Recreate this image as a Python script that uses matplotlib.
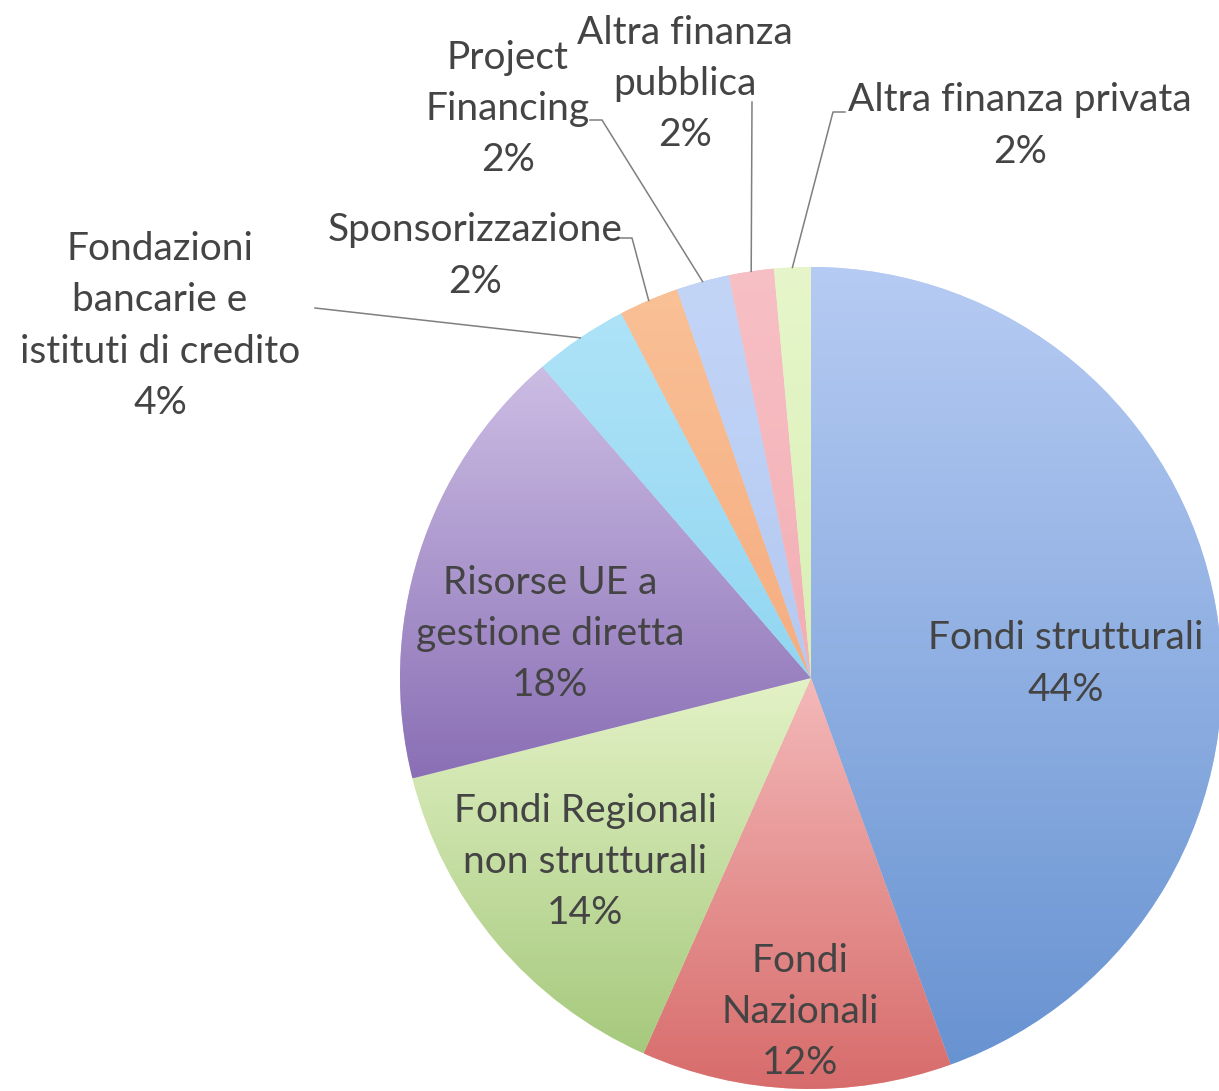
import numpy as np
import matplotlib.pyplot as plt
from matplotlib.colors import LinearSegmentedColormap

plt.rcParams['font.family'] = ['Lato', 'DejaVu Sans']

# slices, clockwise from 12 o'clock
labels = ["Fondi strutturali", "Fondi\nNazionali", "Fondi Regionali\nnon strutturali",
          "Risorse UE a\ngestione diretta", "Fondazioni\nbancarie e\nistituti di credito",
          "Sponsorizzazione", "Project\nFinancing", "Altra finanza\npubblica",
          "Altra finanza privata"]
values = [44.5, 12.2, 14.4, 17.6, 3.7, 2.35, 2.08, 1.77, 1.44]
pct_text = ["44%", "12%", "14%", "18%", "4%", "2%", "2%", "2%", "2%"]
top_colors = ["#b6cbf3", "#f4b9b9", "#e3f2c6", "#ccbde4", "#aee3f8",
              "#fac096", "#c3d5f7", "#f7c0c5", "#e6f6ca"]
bottom_colors = ["#6893d1", "#d76c6b", "#a6c97d", "#8a6fb5", "#92d6f1",
                 "#f5ad80", "#b4c9f2", "#f2aeb4", "#d9efb4"]

W, H = 1219, 1091


def py(y):
    # pixel row -> data y
    return H - y


fig = plt.figure(figsize=(W / 100, H / 100), dpi=100)
ax = fig.add_axes([0, 0, 1, 1])

center = (811, py(678))
radius = 411
wedges, _ = ax.pie(values, startangle=90, counterclock=False, center=center,
                   radius=radius, wedgeprops=dict(linewidth=0))

# vertical gradient inside every slice
grad = np.linspace(0, 1, 256).reshape(-1, 1)
for w, c_top, c_bot in zip(wedges, top_colors, bottom_colors):
    w.set_facecolor(c_top)
    ext = w.get_path().get_extents()
    cmap = LinearSegmentedColormap.from_list("g", [c_bot, c_top])
    im = ax.imshow(grad, extent=[ext.x0, ext.x1, ext.y0, ext.y1], origin="lower",
                   cmap=cmap, aspect="auto", zorder=2, interpolation="bilinear")
    im.set_clip_path(w)

txt_color = "#444444"
fs = 28
ls = 1.52

# labels inside the pie
inside = {0: (1066, 664), 1: (800, 1012), 2: (585, 862), 3: (550, 634)}
for i, (x, y) in inside.items():
    ax.text(x, py(y), labels[i] + "\n" + pct_text[i], ha="center", va="center",
            fontsize=fs, color=txt_color, linespacing=ls, zorder=5)

# labels outside with leader lines
outside = {4: (160, 326), 5: (475, 256), 6: (508, 109), 7: (685, 84), 8: (1020, 126)}
for i, (x, y) in outside.items():
    ax.text(x, py(y), labels[i] + "\n" + pct_text[i], ha="center", va="center",
            fontsize=fs, color=txt_color, linespacing=ls, zorder=5)

leader_start = {4: [(315, 308)], 5: [(620, 238), (632, 238)],
                6: [(590, 120), (602, 120)], 7: [(752, 102)],
                8: [(845, 112), (833, 112)]}
for i, pts in leader_start.items():
    w = wedges[i]
    mid = np.deg2rad((w.theta1 + w.theta2) / 2)
    xe = center[0] + radius * np.cos(mid)
    ye = center[1] + radius * np.sin(mid)
    xs = [p[0] for p in pts] + [xe]
    ys = [py(p[1]) for p in pts] + [ye]
    ax.plot(xs, ys, color="#7f7f7f", lw=1.1, zorder=4)

ax.set_xlim(0, W)
ax.set_ylim(0, H)
ax.set_aspect("equal")
ax.axis("off")

fig.savefig("out.png", dpi=100)
